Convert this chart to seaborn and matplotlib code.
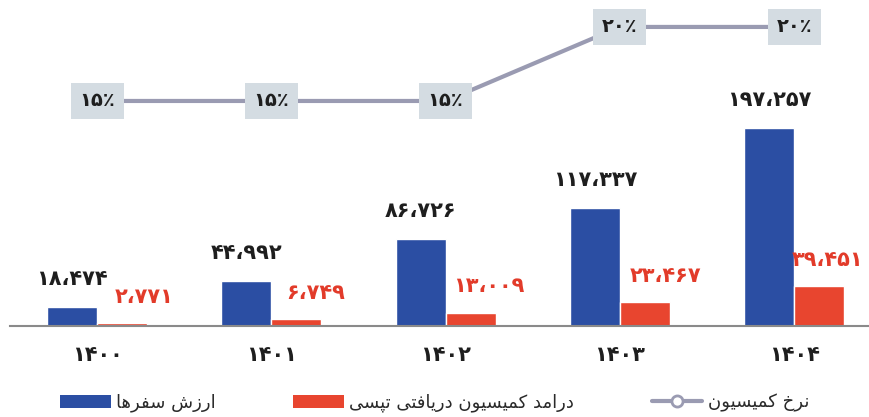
import numpy as np
import pandas as pd
import matplotlib
matplotlib.use("Agg")
import matplotlib.pyplot as plt
import seaborn as sns
from matplotlib.patches import Patch
from matplotlib.lines import Line2D
from matplotlib import font_manager
from matplotlib.ft2font import FT2Font

# ---------------- data ----------------
years = ["۱۴۰۰", "۱۴۰۱", "۱۴۰۲", "۱۴۰۳", "۱۴۰۴"]
trip_value = [18474, 44992, 86726, 117337, 197257]
commission_income = [2771, 6749, 13009, 23467, 39451]
commission_rate = [15, 15, 15, 20, 20]
series_names = ["ارزش سفرها", "درامد کمیسیون دریافتی تپسی"]
rate_name = "نرخ کمیسیون"

# ---------------- styles ----------------
BLUE = "#2b4ea3"
RED = "#e8452f"
LINE = "#9a9bb2"
BOX = "#d4dce2"
DARK = "#1e1e1e"
RED_TXT = "#e23b2a"
RED_LABEL_DX = [16, 14, 13, 15, 6]  # points, horizontal shift of red labels

sns.set_style("white")
plt.rcParams["font.family"] = ["DejaVu Sans"]

# ---------------- simple Persian shaping ----------------
FORMS = {
    'ا': ('\uFE8D', '\uFE8E', None, None),
    'د': ('\uFEA9', '\uFEAA', None, None),
    'ر': ('\uFEAD', '\uFEAE', None, None),
    'ز': ('\uFEAF', '\uFEB0', None, None),
    'و': ('\uFEED', '\uFEEE', None, None),
    'ت': ('\uFE95', '\uFE96', '\uFE97', '\uFE98'),
    'خ': ('\uFEA5', '\uFEA6', '\uFEA7', '\uFEA8'),
    'س': ('\uFEB1', '\uFEB2', '\uFEB3', '\uFEB4'),
    'ش': ('\uFEB5', '\uFEB6', '\uFEB7', '\uFEB8'),
    'ف': ('\uFED1', '\uFED2', '\uFED3', '\uFED4'),
    'م': ('\uFEE1', '\uFEE2', '\uFEE3', '\uFEE4'),
    'ن': ('\uFEE5', '\uFEE6', '\uFEE7', '\uFEE8'),
    'ه': ('\uFEE9', '\uFEEA', '\uFEEB', '\uFEEC'),
    'پ': ('\uFB56', '\uFB57', '\uFB58', '\uFB59'),
    'ک': ('\uFB8E', '\uFB8F', '\uFB90', '\uFB91'),
    'ی': ('\uFBFC', '\uFBFD', '\uFBFE', '\uFBFF'),
}
try:
    _cmap = FT2Font(font_manager.findfont("DejaVu Sans")).get_charmap()
    if 0xFB8E not in _cmap:
        FORMS['ک'] = ('\uFED9', '\uFEDA', '\uFEDB', '\uFEDC')
    if 0xFBFC not in _cmap:
        FORMS['ی'] = ('\uFEEF', '\uFEF0', '\uFEF3', '\uFEF4')
    if 0xFB56 not in _cmap:
        FORMS['پ'] = ('\uFE8F', '\uFE90', '\uFE91', '\uFE92')
except Exception:
    pass


def shape(s):
    out = []
    for i, c in enumerate(s):
        f = FORMS.get(c)
        if f is None:
            out.append(c)
            continue
        prev = s[i - 1] if i > 0 else None
        nxt = s[i + 1] if i + 1 < len(s) else None
        jp = prev in FORMS and FORMS[prev][2] is not None
        jn = f[2] is not None and nxt in FORMS
        idx = 3 if (jp and jn) else 1 if jp else 2 if jn else 0
        out.append(f[idx])
    return "".join(reversed(out))


FA = str.maketrans("0123456789,", "۰۱۲۳۴۵۶۷۸۹،")


def fa_num(v):
    return f"{v:,}".translate(FA)


# ---------------- figure ----------------
df = pd.DataFrame({
    "year": years * 2,
    "series": [series_names[0]] * len(years) + [series_names[1]] * len(years),
    "value": trip_value + commission_income,
})

fig = plt.figure(figsize=(8.69, 4.17), dpi=100)
ax = fig.add_axes([10 / 869, 91 / 417, 859 / 869, 326 / 417])

sns.barplot(data=df, x="year", y="value", hue="series", order=years,
            hue_order=series_names, palette=[BLUE, RED], width=0.574,
            gap=0, saturation=1, legend=False, ax=ax, zorder=2)

ax.set_ylim(0, 324800)
ax.set_xlim(-0.5, 4.43)
ax.set_yticks([])
ax.set_xlabel("")
ax.set_ylabel("")
for sp in ["top", "left", "right"]:
    ax.spines[sp].set_visible(False)
ax.spines["bottom"].set_color("#8a8a8a")
ax.spines["bottom"].set_linewidth(1.5)
ax.tick_params(axis="x", length=0, pad=14)
for t in ax.get_xticklabels():
    t.set_fontsize(15)
    t.set_fontweight("bold")
    t.set_color(DARK)

# value labels from the bars
blue_bars, red_bars = ax.containers[0], ax.containers[1]
for bar, v in zip(blue_bars, trip_value):
    ax.annotate(fa_num(v), (bar.get_x() + bar.get_width() / 2, bar.get_height()),
                xytext=(0, 13), textcoords="offset points", ha="center", va="bottom",
                fontsize=15, fontweight="bold", color=DARK)
for bar, v, dx in zip(red_bars, commission_income, RED_LABEL_DX):
    ax.annotate(fa_num(v), (bar.get_x() + bar.get_width() / 2, bar.get_height()),
                xytext=(dx, 12), textcoords="offset points", ha="center", va="bottom",
                fontsize=15, fontweight="bold", color=RED_TXT)

# commission rate line
ax2 = ax.twinx()
sns.lineplot(x=np.arange(len(years)), y=commission_rate, ax=ax2, color=LINE,
             linewidth=3, zorder=1)
ax2.set_ylim(-0.2, 21.82)
ax2.set_xlim(-0.5, 4.43)
ax2.axis("off")
for i, r in enumerate(commission_rate):
    ax2.text(i, r, str(r).translate(FA) + "٪", ha="center", va="center",
             fontsize=14, fontweight="bold", color=DARK, zorder=5,
             bbox=dict(boxstyle="square,pad=0.45", fc=BOX, ec="none"))

# legend
handles = [
    Patch(facecolor=BLUE, edgecolor="none"),
    Patch(facecolor=RED, edgecolor="none"),
    Line2D([], [], color=LINE, lw=3, marker="o", mfc="white", mec=LINE, ms=8, mew=2),
]
labels = [shape(series_names[0]), shape(series_names[1]), shape(rate_name)]
fig.legend(handles, labels, loc="center", bbox_to_anchor=(0.5, 1 - 403 / 417),
           ncol=3, frameon=False, fontsize=13, handlelength=2.8,
           handletextpad=0.3, columnspacing=4.3, labelcolor="#2a2a2a")

fig.savefig("out.png", dpi=100)
